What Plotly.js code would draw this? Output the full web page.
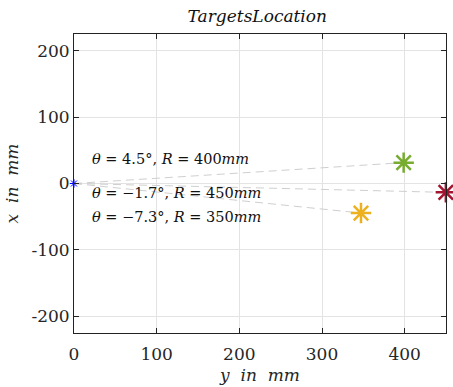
<!DOCTYPE html>
<html><head><meta charset="utf-8">
<script src="https://cdn.plot.ly/plotly-3.0.1.min.js"></script>
<style>body{margin:0;padding:0;background:#fff}#plot{width:453px;height:387px}</style>
</head><body><div id="plot"></div>
<script>
const targetNames = ["T1", "T2", "T3"];
const targetAngleDeg = [4.5, -1.7, -7.3];
const targetRangeMm = [400, 450, 350];
const targetColors = ["#77AC30", "#A2142F", "#EDB120"];
const labelAngles = ["4.5", "−1.7", "−7.3"];
const labelRanges = ["400", "450", "350"];
const labelPosY = [19, 19, 19];
const labelPosX = [37, -15, -51];
const originY = [0];
const originX = [0];

const F = "DejaVu Serif";
const horiz = targetAngleDeg.map((a, i) => targetRangeMm[i] * Math.cos(a * Math.PI / 180));
const vert = targetAngleDeg.map((a, i) => targetRangeMm[i] * Math.sin(a * Math.PI / 180));

const traces = [];
for (let i = 0; i < 3; i++) {
  traces.push({x: [originY[0], horiz[i]], y: [originX[0], vert[i]], mode: 'lines',
    line: {color: '#cfcfcf', width: 1, dash: '8px,5px'}, hoverinfo: 'skip', showlegend: false});
}
traces.push({x: originY, y: originX, mode: 'markers', cliponaxis: false,
  marker: {symbol: 'asterisk-open', size: 7, color: '#0000FF', line: {color: '#0000FF', width: 1}}, showlegend: false});
for (let i = 0; i < 3; i++) {
  traces.push({x: [horiz[i]], y: [vert[i]], mode: 'markers', name: targetNames[i], cliponaxis: false,
    marker: {symbol: 'asterisk-open', size: 17, color: targetColors[i], line: {color: targetColors[i], width: 2.5}}, showlegend: false});
}

const annotations = labelAngles.map((a, i) => ({
  x: labelPosY[i], y: labelPosX[i], xref: 'x', yref: 'y', xanchor: 'left', yanchor: 'middle', showarrow: false,
  text: '<i>θ</i> = ' + a + '°, <i>R</i> = ' + labelRanges[i] + '<i>mm</i>',
  font: {family: F, size: 14.5, color: '#111'}
}));

const axisCommon = {showline: true, linecolor: '#222', linewidth: 1, mirror: 'ticks', ticks: 'inside', ticklen: 5,
  tickcolor: '#222', showgrid: true, gridcolor: '#e3e3e3', gridwidth: 1, zeroline: false,
  tickfont: {family: F, size: 17, color: '#262626'}};

const layout = {
  width: 453, height: 387,
  margin: {l: 74, r: 7, t: 34, b: 54},
  paper_bgcolor: '#fff', plot_bgcolor: '#fff',
  title: {text: '<i>TargetsLocation</i>', font: {family: F, size: 17, color: '#111'}, x: 0.568, xanchor: 'center', y: 0.975, yanchor: 'top'},
  xaxis: Object.assign({}, axisCommon, {range: [0, 450], tickvals: [0, 100, 200, 300, 400], ticklabelstandoff: 6,
    title: {text: '<i>y  in  mm</i>', font: {family: F, size: 17, color: '#262626'}, standoff: 5}}),
  yaxis: Object.assign({}, axisCommon, {range: [-225, 225], tickvals: [-200, -100, 0, 100, 200],
    ticktext: ['-200', '-100', '0', '100', '200'],
    title: {text: '<i>x  in  mm</i>', font: {family: F, size: 17, color: '#262626'}, standoff: 8}}),
  annotations: annotations
};
Plotly.newPlot('plot', traces, layout, {staticPlot: true, displayModeBar: false});
</script></body></html>
